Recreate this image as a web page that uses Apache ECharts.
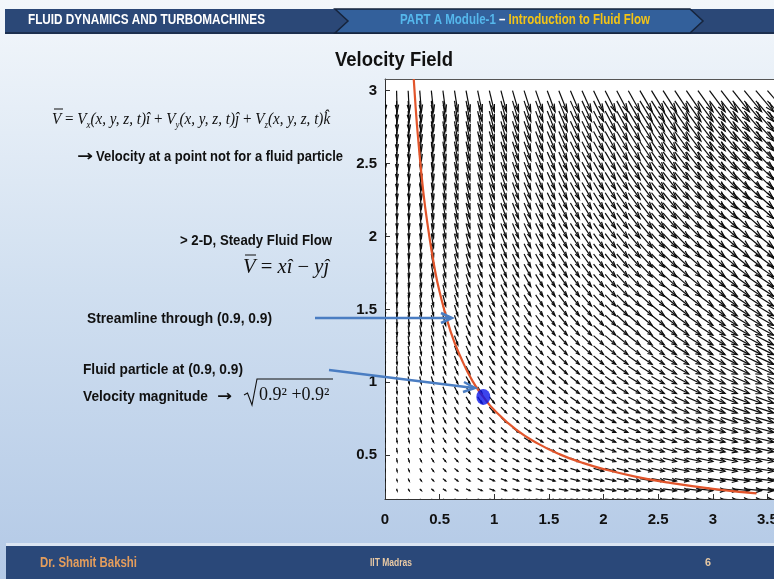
<!DOCTYPE html>
<html>
<head>
<meta charset="utf-8">
<script src="https://cdn.jsdelivr.net/npm/echarts@6/dist/echarts.min.js"></script>
<style>html,body{margin:0;padding:0;}#c{width:774px;height:579px;}</style>
</head>
<body>
<div id="c"></div>
<script>
// ---- data ----
// quiver grid positions
const gridX = [0, 0.106, 0.212, 0.318, 0.424, 0.530, 0.636, 0.742, 0.848, 0.955, 1.061, 1.167, 1.273, 1.379, 1.485, 1.591, 1.697, 1.803, 1.909, 2.015, 2.121, 2.227, 2.333, 2.439, 2.545, 2.652, 2.758, 2.864, 2.970, 3.076, 3.182, 3.288, 3.394, 3.5];
const gridY = [0.20, 0.27, 0.34, 0.41, 0.48, 0.55, 0.62, 0.69, 0.76, 0.83, 0.90, 0.97, 1.04, 1.11, 1.18, 1.25, 1.32, 1.39, 1.46, 1.53, 1.60, 1.67, 1.74, 1.81, 1.88, 1.95, 2.02, 2.09, 2.16, 2.23, 2.30, 2.37, 2.44, 2.51, 2.58, 2.65, 2.72, 2.79, 2.86, 2.93, 3.00];
// velocity components V = x i - y j : Vx per column, Vy per row
const velX = [0, 0.106, 0.212, 0.318, 0.424, 0.530, 0.636, 0.742, 0.848, 0.955, 1.061, 1.167, 1.273, 1.379, 1.485, 1.591, 1.697, 1.803, 1.909, 2.015, 2.121, 2.227, 2.333, 2.439, 2.545, 2.652, 2.758, 2.864, 2.970, 3.076, 3.182, 3.288, 3.394, 3.5];
const velY = [-0.20, -0.27, -0.34, -0.41, -0.48, -0.55, -0.62, -0.69, -0.76, -0.83, -0.90, -0.97, -1.04, -1.11, -1.18, -1.25, -1.32, -1.39, -1.46, -1.53, -1.60, -1.67, -1.74, -1.81, -1.88, -1.95, -2.02, -2.09, -2.16, -2.23, -2.30, -2.37, -2.44, -2.51, -2.58, -2.65, -2.72, -2.79, -2.86, -2.93, -3.00];
// streamline through (0.9, 0.9)
const streamX = [0.263, 0.28, 0.30, 0.35, 0.40, 0.45, 0.50, 0.60, 0.70, 0.80, 0.90, 1.00, 1.20, 1.40, 1.60, 1.80, 2.00, 2.30, 2.60, 3.00, 3.40];
const streamY = [3.08, 2.89, 2.70, 2.31, 2.03, 1.80, 1.62, 1.35, 1.16, 1.01, 0.90, 0.81, 0.675, 0.58, 0.506, 0.45, 0.405, 0.352, 0.312, 0.27, 0.238];
// fluid particle
const particle = [0.9, 0.9];
// tick labels
const xTicks = [0, 0.5, 1, 1.5, 2, 2.5, 3, 3.5];
const yTicks = [0.5, 1, 1.5, 2, 2.5, 3];

// ---- build ----
const quiverData = [];
for (let j = 0; j < gridY.length; j++) {
  for (let i = 0; i < gridX.length; i++) {
    quiverData.push([gridX[i], gridY[j], velX[i], velY[j]]);
  }
}
const streamData = streamX.map((x, k) => [x, streamY[k]]);
const ARROW_SCALE = 0.048;
const HEAD_A = 0.33, HEAD_B = 0.33;

function renderArrow(params, api) {
  const x = api.value(0), y = api.value(1);
  const u = api.value(2) * ARROW_SCALE, v = api.value(3) * ARROW_SCALE;
  if (Math.abs(u) + Math.abs(v) < 1e-6) return null;
  const tx = x + u, ty = y + v;
  const p0 = api.coord([x, y]);
  const p1 = api.coord([tx, ty]);
  const h1 = api.coord([tx - HEAD_A * (u + HEAD_B * v), ty - HEAD_A * (v - HEAD_B * u)]);
  const h2 = api.coord([tx - HEAD_A * (u - HEAD_B * v), ty - HEAD_A * (v + HEAD_B * u)]);
  return {
    type: 'group',
    children: [
      { type: 'polyline', shape: { points: [p0, p1] }, style: { stroke: '#0d0d0d', lineWidth: 1.2, fill: null } },
      { type: 'polyline', shape: { points: [h1, p1, h2] }, style: { stroke: '#0d0d0d', lineWidth: 1.2, fill: null } }
    ]
  };
}

const mctx = document.createElement('canvas').getContext('2d');
function fitScale(str, font, w) { mctx.font = font; return w / mctx.measureText(str).width; }

const SANS = "'Liberation Sans', Arial, sans-serif";
const SERIF = "'Liberation Serif', 'Times New Roman', serif";
const ARROWFONT = "'DejaVu Sans', sans-serif";

function boldText(str, x, y, size, w, fill, align) {
  const font = 'bold ' + size + 'px ' + SANS;
  return {
    type: 'text', x: x, y: y, z: 100, scaleX: fitScale(str, font, w),
    style: { text: str, font: font, fill: fill || '#111', textAlign: align || 'left', textVerticalAlign: 'middle' }
  };
}
function arrowGlyph(x, y, w) {
  const font = 'bold 15px ' + ARROWFONT;
  return { type: 'text', x: x, y: y, z: 100, scaleX: fitScale('→', font, w),
    style: { text: '→', font: font, fill: '#111', textVerticalAlign: 'middle' } };
}

function serifRich(size) {
  return {
    v: { fontFamily: SERIF, fontStyle: 'italic', fontSize: size, fill: '#111', lineHeight: size + 5 },
    o: { fontFamily: SERIF, fontSize: size, fill: '#111', lineHeight: size + 5 },
    s: { fontFamily: SERIF, fontStyle: 'italic', fontSize: Math.round(size * 0.6), fill: '#111', padding: [10, 0, 0, 0] }
  };
}

const headerFont = 'bold 14px ' + SANS;
const headerMid = 'PART A Module-1 – Introduction to Fluid Flow';
const eq1Text = '{v|V}{o| = }{v|V}{s|x}{v|(x, y, z, t)î}{o| + }{v|V}{s|y}{v|(x, y, z, t)ĵ}{o| + }{v|V}{s|z}{v|(x, y, z, t)k̂}';

const graphics = [
  // slide background
  { type: 'rect', z: -10, shape: { x: 0, y: 0, width: 774, height: 579 },
    style: { fill: new echarts.graphic.LinearGradient(0, 0, 0, 1, [
      { offset: 0, color: '#f3f7fb' }, { offset: 0.5, color: '#d0dff0' }, { offset: 1, color: '#b3c9e6' }]) } },
  // header bar
  { type: 'rect', z: 50, shape: { x: 5, y: 9, width: 769, height: 23 }, style: { fill: '#2b4877' } },
  { type: 'rect', z: 50, shape: { x: 5, y: 32, width: 769, height: 2 }, style: { fill: '#1c2f4f' } },
  { type: 'polygon', z: 51, shape: { points: [[335, 9], [690, 9], [703, 21], [690, 33], [335, 33], [348, 21]] },
    style: { fill: '#33609b', stroke: '#16243c', lineWidth: 1.5 } },
  boldText('FLUID DYNAMICS AND TURBOMACHINES', 28, 20, 14, 237, '#ffffff'),
  { type: 'text', x: 400, y: 20, z: 100, scaleX: fitScale(headerMid, headerFont, 250),
    style: { text: '{a|PART A Module-1}{b| – }{c|Introduction to Fluid Flow}', textVerticalAlign: 'middle',
      rich: { a: { font: headerFont, fill: '#55b7ec' }, b: { font: headerFont, fill: '#ffffff' }, c: { font: headerFont, fill: '#f3c416' } } } },
  // footer bar
  { type: 'rect', z: 50, shape: { x: 6, y: 543, width: 768, height: 3 }, style: { fill: '#dbe5f2' } },
  { type: 'rect', z: 50, shape: { x: 6, y: 546, width: 768, height: 33 }, style: { fill: '#2a4879' } },
  boldText('Dr. Shamit Bakshi', 40, 563, 15, 97, '#e49d5c'),
  boldText('IIT Madras', 370, 563, 10, 42, '#e8c9a4'),
  boldText('6', 705, 563, 11, 6, '#e8c9a4'),
  // title
  boldText('Velocity Field', 335, 60, 21, 118, '#111'),
  // left texts
  { type: 'text', x: 52, y: 120, z: 100, scaleX: 0.89,
    style: { text: eq1Text, textVerticalAlign: 'middle', rich: serifRich(17) } },
  { type: 'line', z: 100, shape: { x1: 54, y1: 109, x2: 63, y2: 109 }, style: { stroke: '#111', lineWidth: 1 } },
  arrowGlyph(77, 157, 16),
  boldText('Velocity at a point not for a fluid particle', 96, 157, 15, 247, '#111'),
  boldText('> 2-D, Steady Fluid Flow', 180, 241, 15, 152, '#111'),
  { type: 'text', x: 243, y: 268, z: 100, scaleX: 1.03,
    style: { text: '{v|V}{o| = }{v|xî}{o| − }{v|yĵ}', textVerticalAlign: 'middle', rich: serifRich(20) } },
  { type: 'line', z: 100, shape: { x1: 245, y1: 255, x2: 256, y2: 255 }, style: { stroke: '#111', lineWidth: 1 } },
  boldText('Streamline through (0.9, 0.9)', 87, 319, 15, 185, '#111'),
  boldText('Fluid particle at (0.9, 0.9)', 83, 370, 15, 160, '#111'),
  boldText('Velocity magnitude', 83, 397, 15, 125, '#111'),
  arrowGlyph(217, 397, 15),
  // radical sign
  { type: 'polyline', z: 100, shape: { points: [[244, 395], [247.5, 393], [252, 405], [257, 379], [333, 379]] },
    style: { stroke: '#111', lineWidth: 1.1, fill: null } },
  { type: 'text', x: 259, y: 395, z: 100, style: { text: '0.9² +0.9²', font: '18px ' + SERIF, fill: '#111', textVerticalAlign: 'middle' } },
  // annotation arrows
  { type: 'line', z: 100, shape: { x1: 315, y1: 318, x2: 451, y2: 318 }, style: { stroke: '#4a7dc2', lineWidth: 2.5 } },
  { type: 'polyline', z: 100, shape: { points: [[441, 313], [452, 318], [441, 323]] }, style: { stroke: '#4a7dc2', lineWidth: 2.5, fill: null } },
  { type: 'line', z: 100, shape: { x1: 329, y1: 370, x2: 474, y2: 388 }, style: { stroke: '#4a7dc2', lineWidth: 2.5 } },
  { type: 'polyline', z: 100, shape: { points: [[464, 382], [475, 388], [463, 392]] }, style: { stroke: '#4a7dc2', lineWidth: 2.5, fill: null } }
];

const chart = echarts.init(document.getElementById('c'), null, { renderer: 'canvas' });
chart.setOption({
  animation: false,
  graphic: graphics,
  grid: { left: 385, top: 79, right: 0, bottom: 80, show: true, backgroundColor: '#ffffff', borderWidth: 0,
    containLabel: false, outerBoundsMode: 'none' },
  xAxis: [
    { type: 'value', min: 0, max: 3.56, position: 'bottom',
      axisLine: { show: true, onZero: false, lineStyle: { color: '#333', width: 1 } },
      axisTick: { show: true, inside: true, length: 5, customValues: xTicks, lineStyle: { color: '#333' } },
      axisLabel: { customValues: xTicks, fontSize: 15, fontWeight: 'bold', color: '#111', margin: 13, fontFamily: SANS },
      splitLine: { show: false } },
    { type: 'value', min: 0, max: 3.56, position: 'top',
      axisLine: { show: true, onZero: false, lineStyle: { color: '#555', width: 1 } },
      axisTick: { show: false }, axisLabel: { show: false }, splitLine: { show: false } }
  ],
  yAxis: [
    { type: 'value', min: 0.2, max: 3.08, position: 'left',
      axisLine: { show: true, onZero: false, lineStyle: { color: '#333', width: 1 } },
      axisTick: { show: true, inside: true, length: 5, customValues: yTicks, lineStyle: { color: '#333' } },
      axisLabel: { customValues: yTicks, fontSize: 15, fontWeight: 'bold', color: '#111', margin: 8, fontFamily: SANS },
      splitLine: { show: false } }
  ],
  series: [
    { type: 'custom', name: 'velocity', xAxisIndex: 0, yAxisIndex: 0, renderItem: renderArrow,
      data: quiverData, encode: { x: 0, y: 1 }, silent: true, clip: true, z: 2 },
    { type: 'line', name: 'streamline', data: streamData, smooth: true, showSymbol: false, clip: true,
      lineStyle: { color: '#e2552b', width: 2.2 }, z: 3, silent: true },
    { type: 'scatter', name: 'particle', data: [particle], symbol: 'circle', symbolSize: [14, 16],
      itemStyle: { color: '#0b16e8' }, z: 4, silent: true }
  ]
});
</script>
</body>
</html>
